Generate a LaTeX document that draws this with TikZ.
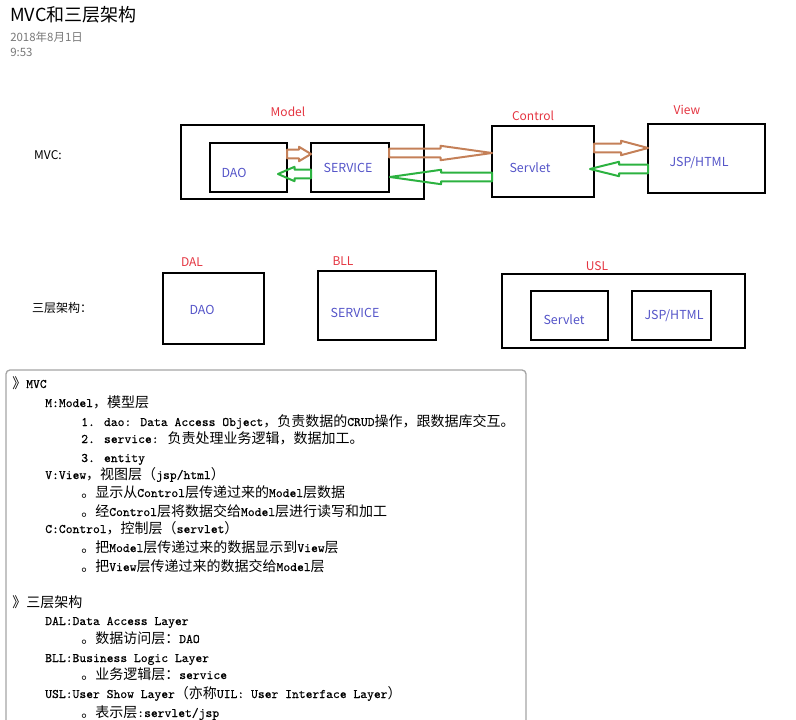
\documentclass[tikz,border=0pt]{standalone}
\usepackage{fontspec}
\setmainfont{Noto Sans CJK SC}
\newfontfamily\cjk[Scale=1.077]{Noto Sans CJK SC}
\newfontface\notemono{lmmono10-regular.otf}[FakeBold=0.4]
\usetikzlibrary{calc}
\definecolor{lblred}{RGB}{228,52,64}
\definecolor{lblblue}{RGB}{84,84,200}
\definecolor{arrbrown}{RGB}{196,128,88}
\definecolor{arrgreen}{RGB}{44,178,64}
\definecolor{dategray}{RGB}{120,120,120}
\definecolor{panelgray}{RGB}{165,165,165}
\tikzset{
  box/.style 2 args={draw, line width=2.1pt, minimum width=#1*0.75pt, minimum height=#2*0.75pt, inner sep=0pt, outer sep=0pt},
  redlbl/.style={text=lblred, inner sep=0pt, font=\fontsize{9pt}{11pt}\selectfont},
  bluelbl/.style={text=lblblue, inner sep=0pt, font=\fontsize{9.3pt}{11pt}\selectfont},
  sidelbl/.style={inner sep=0pt, font=\fontsize{9pt}{11pt}\selectfont},
  noteline/.style={anchor=base west, inner sep=0pt, font=\fontsize{9.75pt}{12pt}\notemono},
  brownarrow/.style={draw=arrbrown, line width=1.5pt, line join=round},
  greenarrow/.style={draw=arrgreen, line width=1.5pt, line join=round},
}
\newcommand\blockarrow[3]{%
  \draw[#1] let \p1=(#2), \p2=(#3), \p3=($(#2)!0.5!(#3)$) in
    (\x1,\y1+3.2pt) -- (\x3,\y1+3.2pt) -- (\x3,\y1+5.4pt) -- (\x2,\y2)
    -- (\x3,\y1-5.4pt) -- (\x3,\y1-3.2pt) -- (\x1,\y1-3.2pt) -- cycle;}
\begin{document}
\begin{tikzpicture}[x=0.75pt,y=-0.75pt]
\useasboundingbox (0,0) rectangle (796,720);
% header
\node[anchor=base west, inner sep=0pt, font=\fontsize{13.5pt}{16pt}\selectfont] (title) at (10,22) {MVC和三层架构};
\node[anchor=base west, inner sep=0pt, text=dategray, font=\fontsize{8.6pt}{10pt}\selectfont] (date) at (10,41.5) {2018年8月1日};
\node[anchor=base west, inner sep=0pt, text=dategray, font=\fontsize{8.6pt}{10pt}\selectfont] (time) at (10,56.5) {9:53};

% MVC diagram
\node[sidelbl] (mvclbl) at (48,155) {MVC:};
\node[box={243}{74}] (model) at (302.5,162) {};
\node[box={77}{49}] (dao) at (248.5,167.5) {};
\node[box={78}{49}] (service) at (350,167.5) {};
\node[box={102}{71}] (servlet) at (543,161.5) {};
\node[box={117}{69}] (view) at (706.5,158.5) {};
\node[redlbl] (modellbl) at (288,112) {Model};
\node[redlbl] (controllbl) at (533,116) {Control};
\node[redlbl] (viewlbl) at (687,110) {View};
\node[bluelbl] (daotxt) at (234,173) {DAO};
\node[bluelbl] (servicetxt) at (348,168) {SERVICE};
\node[bluelbl] (servlettxt) at (530,168) {Servlet};
\node[bluelbl] (viewtxt) at (699,163) {JSP/HTML};

\coordinate (a1t) at ($(dao.east)+(0,-13.5)$);
\coordinate (a1p) at ($(service.west)+(0,-13.5)$);
\coordinate (a2t) at ($(service.west)+(0,6.5)$);
\coordinate (a2p) at ($(dao.east)+(-9,6.5)$);
\coordinate (a3t) at ($(service.east)+(0,-14.5)$);
\coordinate (a3p) at ($(servlet.west)+(0,-8.5)$);
\coordinate (a4t) at ($(servlet.west)+(0,15.5)$);
\coordinate (a4p) at ($(service.east)+(1,9.5)$);
\coordinate (a5t) at ($(servlet.east)+(0,-13.5)$);
\coordinate (a5p) at ($(view.west)+(0,-10.5)$);
\coordinate (a6t) at ($(view.west)+(0,10.5)$);
\coordinate (a6p) at ($(servlet.east)+(-4,7.5)$);
\blockarrow{brownarrow}{a1t}{a1p}
\blockarrow{greenarrow}{a2t}{a2p}
\blockarrow{brownarrow}{a3t}{a3p}
\blockarrow{greenarrow}{a4t}{a4p}
\blockarrow{brownarrow}{a5t}{a5p}
\blockarrow{greenarrow}{a6t}{a6p}

% three-tier diagram
\node[sidelbl] (tierlbl) at (62,308) {三层架构：};
\node[box={101}{71}] (dal) at (213.5,308.5) {};
\node[box={118}{69}] (bll) at (377,305.5) {};
\node[box={243}{74}] (usl) at (623.5,311) {};
\node[box={77}{49}] (uslservlet) at (569.5,315.5) {};
\node[box={79}{49}] (usljsp) at (671.5,315.5) {};
\node[redlbl] (dallbl) at (192,262) {DAL};
\node[redlbl] (blllbl) at (343,261) {BLL};
\node[redlbl] (usllbl) at (597,266) {USL};
\node[bluelbl] (daltxt) at (202,310) {DAO};
\node[bluelbl] (blltxt) at (355,313) {SERVICE};
\node[bluelbl] (uslservlettxt) at (564,320) {Servlet};
\node[bluelbl] (usljsptxt) at (674,316) {JSP/HTML};

% notes panel
\draw[panelgray, line width=1pt, rounded corners=3pt] (6,730) -- (6,370) -- (526,370) -- (526,730);
\node[noteline] (n1) at (12,388) {{\cjk 》}MVC};
\node[noteline] (n2) at (45,407) {M:Model{\cjk ，模型层}};
\node[noteline] (n3) at (81,426) {1. dao: Data Access Object{\cjk ，负责数据的}CRUD{\cjk 操作，跟数据库交互。}};
\node[noteline] (n4) at (81,443) {2. service: {\cjk 负责处理业务逻辑，数据加工。}};
\node[noteline] (n5) at (81,462) {3. entity};
\node[noteline] (n6) at (45,479) {V:View{\cjk ，视图层（}jsp/html{\cjk ）}};
\node[noteline] (n7) at (81,497) {{\cjk 。显示从}Control{\cjk 层传递过来的}Model{\cjk 层数据}};
\node[noteline] (n8) at (81,516) {{\cjk 。经}Control{\cjk 层将数据交给}Model{\cjk 层进行读写和加工}};
\node[noteline] (n9) at (45,533) {C:Control{\cjk ，控制层（}servlet{\cjk ）}};
\node[noteline] (n10) at (81,552) {{\cjk 。把}Model{\cjk 层传递过来的数据显示到}View{\cjk 层}};
\node[noteline] (n11) at (81,571) {{\cjk 。把}View{\cjk 层传递过来的数据交给}Model{\cjk 层}};
\node[noteline] (n12) at (12,607) {{\cjk 》三层架构}};
\node[noteline] (n13) at (45,625) {DAL:Data Access Layer};
\node[noteline] (n14) at (81,643) {{\cjk 。数据访问层：}DAO};
\node[noteline] (n15) at (45,662) {BLL:Business Logic Layer};
\node[noteline] (n16) at (81,679) {{\cjk 。业务逻辑层：}service};
\node[noteline] (n17) at (45,698) {USL:User Show Layer{\cjk （亦称}UIL: User Interface Layer{\cjk ）}};
\node[noteline] (n18) at (81,717) {{\cjk 。表示层}:servlet/jsp};
\end{tikzpicture}
\end{document}
